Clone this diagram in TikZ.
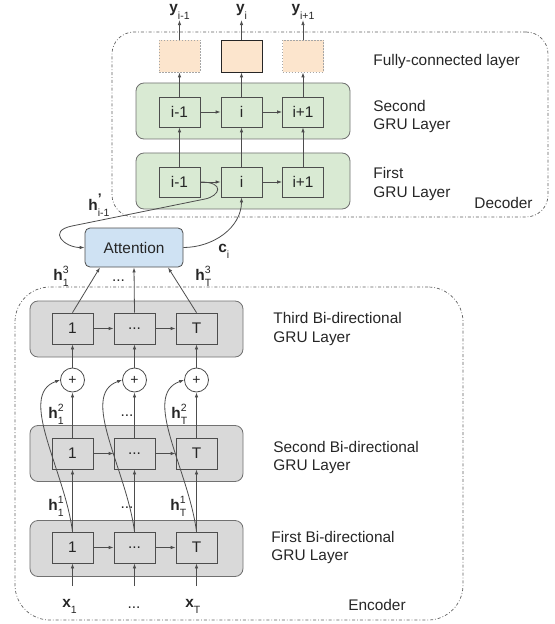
\documentclass[tikz,border=0pt]{standalone}
\usepackage{fontspec}
\setmainfont{Liberation Sans}
\usetikzlibrary{arrows.meta,calc}
\definecolor{grufill}{HTML}{D9EAD3}
\definecolor{bigrufill}{HTML}{D9D9D9}
\definecolor{fcfill}{HTML}{FCE5CD}
\definecolor{attfill}{HTML}{CFE2F3}
\definecolor{edge}{HTML}{4D4D4D}
\definecolor{ink}{HTML}{262626}
\def\subfont{\fontsize{10.5bp}{10.5bp}\selectfont}
\def\vsym#1#2#3{\textbf{#1}\rlap{\raisebox{0.4em}{\subfont #2}}\raisebox{-0.4em}{\subfont #3}}
\tikzset{
  panel/.style={draw=edge!80, rounded corners=8bp, minimum width=213bp, minimum height=56bp, inner sep=0pt},
  cell/.style={draw=edge, minimum width=41bp, minimum height=30bp, inner sep=0pt, text=ink},
  fcbox/.style={fill=fcfill, minimum width=41bp, minimum height=32bp, inner sep=0pt},
  ghost/.style={fcbox, draw=gray!70, dash pattern=on 1.5bp off 1.5bp},
  sumnode/.style={circle, draw=edge, fill=white, minimum size=24bp, inner sep=0pt, text=ink, font=\fontsize{14bp}{14bp}\selectfont},
  arr/.style={draw=edge, line width=0.8bp, -{Latex[length=5bp,width=3.5bp]}},
  outline/.style={draw=edge!90, line width=0.7bp, dash pattern=on 3bp off 2bp on 0.8bp off 2bp},
  sym/.style={inner sep=0pt, anchor=base west, text=ink},
  layertext/.style={anchor=west, align=left, inner sep=0pt, text=ink},
}

\begin{document}
\begin{tikzpicture}[x=1bp, y=-1bp, line width=0.8bp, font=\fontsize{15.4bp}{18.5bp}\selectfont]
\useasboundingbox (0,0) rectangle (555,624);

\node[outline, rounded corners=22bp, minimum width=436bp, minimum height=185bp] (dec) at (330,124.5) {};
\node[outline, rounded corners=35bp, minimum width=448bp, minimum height=333bp] (enc) at (239,453.5) {};

\node[panel, fill=grufill, minimum width=214bp] (gru2) at (243,111) {};
\node[panel, fill=grufill, minimum width=214bp] (gru1) at (243,181) {};
\node[ghost] (fc1) at (179.5,56) {};
\node[fcbox, draw=ink] (fc2) at (241.5,56) {};
\node[ghost] (fc3) at (303,56) {};
\node[cell] (s1) at (179.5,112) {i-1};
\node[cell] (s2) at (241.5,112) {i};
\node[cell] (s3) at (303,112) {i+1};
\node[cell] (d1) at (179.5,182) {i-1};
\node[cell] (d2) at (241.5,182) {i};
\node[cell] (d3) at (303,182) {i+1};

\node[sym, anchor=base, inner sep=0.5bp] (y1) at (179.5,13) {\vsym{y}{}{i-1}};
\node[sym, anchor=base, inner sep=0.5bp] (y2) at (241.5,13) {\vsym{y}{}{i}};
\node[sym, anchor=base, inner sep=0.5bp] (y3) at (303,13) {\vsym{y}{}{i+1}};

\draw[arr] (fc1.north) -- (y1.south);
\draw[arr] (fc2.north) -- (y2.south);
\draw[arr] (fc3.north) -- (y3.south);
\draw[arr] (s1.north) -- (fc1.south);
\draw[arr] (s2.north) -- (fc2.south);
\draw[arr] (s3.north) -- (fc3.south);
\draw[arr] (d1.north) -- (s1.south);
\draw[arr] (d2.north) -- (s2.south);
\draw[arr] (d3.north) -- (s3.south);
\draw[arr] (s1.east) -- (s2.west);
\draw[arr] (s2.east) -- (s3.west);
\draw[arr] (d1.east) -- (d2.west);
\draw[arr] (d2.east) -- (d3.west);

\node[layertext] (fctxt) at (373,62) {Fully-connected layer};
\node[layertext] (gru2txt) at (373,116.5) {Second\\GRU Layer};
\node[layertext] (gru1txt) at (373,184) {First\\GRU Layer};
\node[anchor=east, inner sep=0pt, text=ink] (dectxt) at (533,203) {Decoder};

\node[draw=edge, fill=attfill, rounded corners=5bp, minimum width=98bp, minimum height=39bp, text=ink] (att) at (134,247.5) {Attention};

\coordinate (hp1) at (205,199);
\coordinate (hp2) at (72,226);
\draw[arr] (d1.east) .. controls +(25,0) and +(15,-3) .. (hp1) -- (hp2) .. controls +(-25,5) and +(-20,0) .. (att.west);
\draw[arr] (att.east) .. controls +(30,0) and +(0,30) .. (d2.south);
\node[sym] (hprev) at (88,210) {\vsym{h}{\fontsize{14bp}{14bp}\selectfont\textbf{\symbol{39}}}{i-1}};
\node[sym] (ci) at (218,252) {\vsym{c}{}{i}};

\node[panel, fill=bigrufill] (bi3) at (136.5,329) {};
\node[panel, fill=bigrufill] (bi2) at (136.5,453.5) {};
\node[panel, fill=bigrufill] (bi1) at (136.5,548.5) {};
\node[cell, minimum height=31bp] (t1) at (72.5,328.5) {1};
\node[cell, minimum height=31bp] (t2) at (134.5,328.5) {...};
\node[cell, minimum height=31bp] (t3) at (196.5,328.5) {T};
\node[cell, minimum height=31bp] (m1) at (72.5,453.5) {1};
\node[cell, minimum height=31bp] (m2) at (134.5,453.5) {...};
\node[cell, minimum height=31bp] (m3) at (196.5,453.5) {T};
\node[cell, minimum height=31bp] (e1) at (72.5,547.5) {1};
\node[cell, minimum height=31bp] (e2) at (134.5,547.5) {...};
\node[cell, minimum height=31bp] (e3) at (196.5,547.5) {T};
\node[sumnode] (p1) at (72.5,380) {+};
\node[sumnode] (p2) at (134.5,380) {+};
\node[sumnode] (p3) at (196.5,380) {+};

\coordinate (in1) at (72.5,586);
\coordinate (in2) at (134.5,586);
\coordinate (in3) at (196.5,586);
\draw[arr] (in1) -- (e1.south);
\draw[arr] (in2) -- (e2.south);
\draw[arr] (in3) -- (e3.south);
\draw[arr] (e1.north) -- (m1.south);
\draw[arr] (e2.north) -- (m2.south);
\draw[arr] (e3.north) -- (m3.south);
\draw[arr] (m1.north) -- (p1.south);
\draw[arr] (m2.north) -- (p2.south);
\draw[arr] (m3.north) -- (p3.south);
\draw[arr] (p1.north) -- (t1.south);
\draw[arr] (p2.north) -- (t2.south);
\draw[arr] (p3.north) -- (t3.south);
\draw[arr] (e1.east) -- (e2.west);
\draw[arr] (e2.east) -- (e3.west);
\draw[arr] (m1.east) -- (m2.west);
\draw[arr] (m2.east) -- (m3.west);
\draw[arr] (t1.east) -- (t2.west);
\draw[arr] (t2.east) -- (t3.west);
\draw[arr] (e1.north) .. controls +(-8,-62) and +(-43,15) .. (p1.west);
\draw[arr] (e2.north) .. controls +(-8,-62) and +(-43,15) .. (p2.west);
\draw[arr] (e3.north) .. controls +(-8,-62) and +(-43,15) .. (p3.west);
\draw[arr] (t1.north) -- ($(att.south)+(-34,0)$);
\draw[arr] (t2.north) -- (att.south);
\draw[arr] (t3.north) -- ($(att.south)+(34,0)$);

\node[sym] (h31) at (53,280) {\vsym{h}{3}{1}};
\node[sym, anchor=base] (dots3) at (118.5,281) {...};
\node[sym] (h3T) at (195,280) {\vsym{h}{3}{T}};
\node[sym] (h21) at (48,418) {\vsym{h}{2}{1}};
\node[sym, anchor=base] (dots2) at (127,416) {...};
\node[sym] (h2T) at (171,418) {\vsym{h}{2}{T}};
\node[sym] (h11) at (48,510) {\vsym{h}{1}{1}};
\node[sym, anchor=base] (dots1) at (127,508) {...};
\node[sym] (h1T) at (170,510) {\vsym{h}{1}{T}};
\node[sym] (x1) at (62,607) {\vsym{x}{}{1}};
\node[sym, anchor=base] (dots0) at (134,608) {...};
\node[sym] (xT) at (185,607) {\vsym{x}{}{T}};

\node[layertext] (bi3txt) at (273,329) {Third Bi-directional\\GRU Layer};
\node[layertext] (bi2txt) at (273,457.5) {Second Bi-directional\\GRU Layer};
\node[layertext] (bi1txt) at (271,547.5) {First Bi-directional\\GRU Layer};
\node[inner sep=0pt, text=ink] (enctxt) at (377,605) {Encoder};
\end{tikzpicture}
\end{document}
